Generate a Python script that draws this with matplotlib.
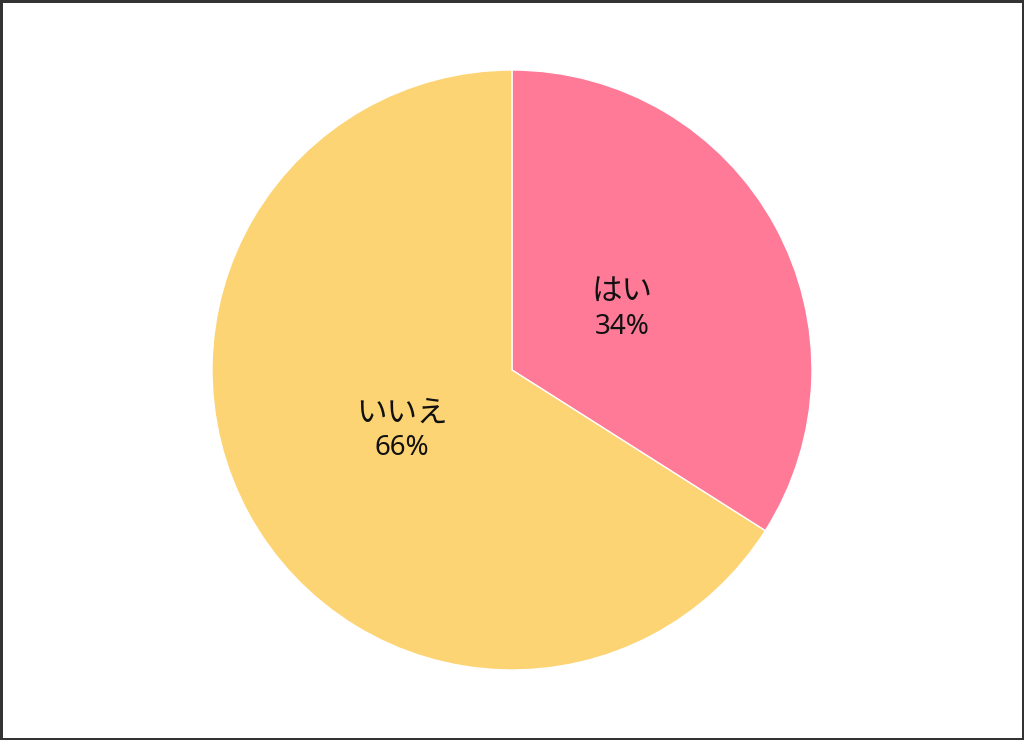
import matplotlib
matplotlib.use("Agg")
import matplotlib.pyplot as plt
import numpy as np

plt.rcParams['font.family'] = ['Noto Sans', 'Noto Sans CJK JP', 'DejaVu Sans']

labels = ['はい', 'いいえ']
values = [34, 66]
colors = ['#FF7A97', '#FDD473']

fig = plt.figure(figsize=(10.24, 7.40), dpi=100)
fig.patch.set_facecolor('white')
fig.patch.set_edgecolor('#333333')
fig.patch.set_linewidth(2.5)
ax = fig.add_axes([0, 0, 1, 1])

wedges, _ = ax.pie(values, colors=colors, startangle=90, counterclock=False,
                   radius=1.0, center=(0, 0),
                   wedgeprops=dict(edgecolor='white', linewidth=1))

R = 300.0
ax.set_xlim(-512 / R, 512 / R)
ax.set_ylim(-370 / R, 370 / R)
ax.set_aspect('equal')
ax.axis('off')

total = sum(values)
for w, lab, v in zip(wedges, labels, values):
    ang = np.deg2rad((w.theta1 + w.theta2) / 2)
    r = 0.42
    x, y = r * np.cos(ang), r * np.sin(ang)
    ax.text(x, y + 0.058, lab, ha='center', va='center', fontsize=22, color='#111111')
    ax.text(x, y - 0.058, f'{round(v / total * 100)}%', ha='center', va='center',
            fontsize=20, color='#111111')

fig.savefig('out.png', dpi=100, edgecolor=fig.get_edgecolor())
